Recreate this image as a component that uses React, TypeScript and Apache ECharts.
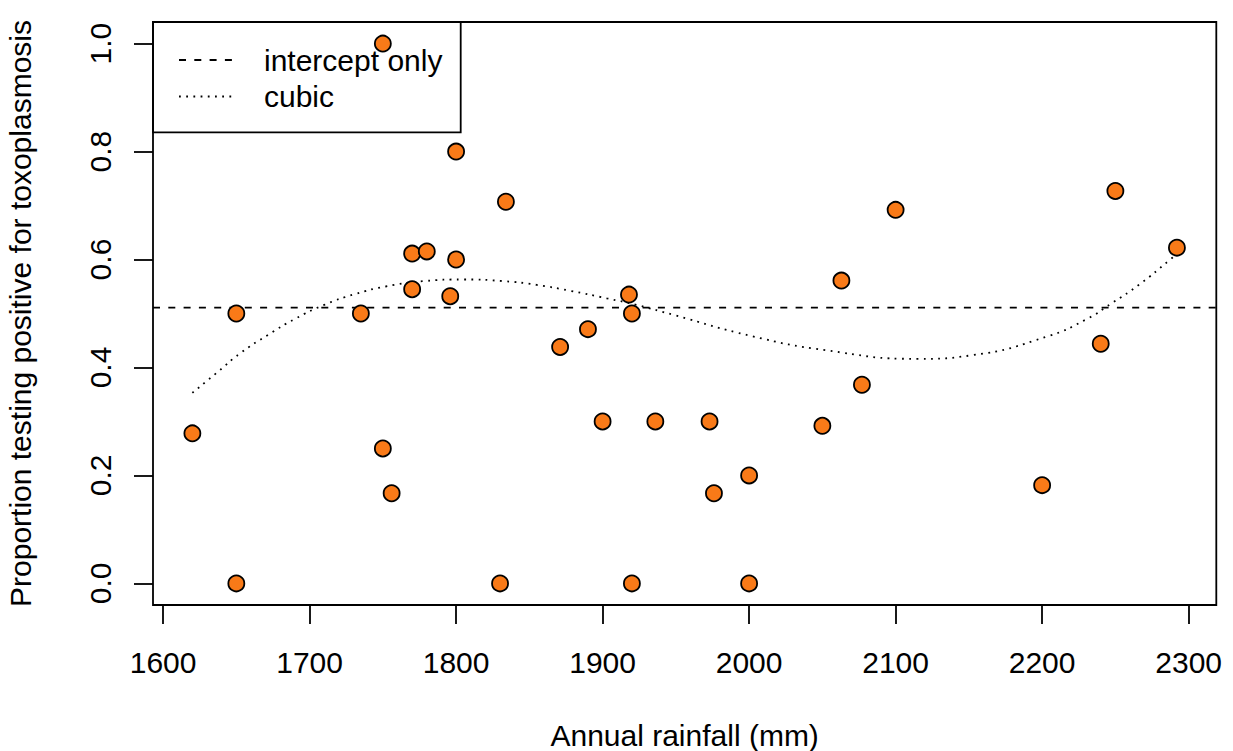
import React, { useEffect, useRef } from "react";
import * as echarts from "echarts";

const rainfall = [1735, 1936, 2000, 1973, 1750, 1800, 1750, 2077, 1920, 1800, 2050, 1830, 1650, 2200, 2000, 1770, 1920, 1770, 2240, 1620, 1756, 1650, 2250, 1796, 1890, 1871, 2063, 2100, 1918, 1834, 1780, 1900, 1976, 2292];
const proportion = [0.5, 0.3, 0.2, 0.3, 1.0, 0.6, 0.25, 0.368, 0.5, 0.8, 0.292, 0, 0.5, 0.182, 0, 0.545, 0, 0.611, 0.444, 0.278, 0.167, 0, 0.727, 0.532, 0.471, 0.438, 0.561, 0.692, 0.535, 0.707, 0.615, 0.3, 0.167, 0.622];

const cubicX = [1620, 1637, 1653, 1672, 1690, 1710, 1731, 1752, 1778, 1805, 1832, 1855, 1878, 1903, 1923, 1949, 2002, 2052, 2115, 2153, 2204, 2230, 2248, 2266, 2287, 2292];
const cubicY = [0.353, 0.391, 0.427, 0.461, 0.49, 0.516, 0.536, 0.55, 0.56, 0.563, 0.56, 0.553, 0.542, 0.528, 0.516, 0.497, 0.458, 0.432, 0.416, 0.423, 0.458, 0.489, 0.52, 0.553, 0.599, 0.611];

const interceptOnly = 0.511;

const xTicks = [1600, 1700, 1800, 1900, 2000, 2100, 2200, 2300];
const yTicks = [0, 0.2, 0.4, 0.6, 0.8, 1.0];
const xRange = [1593.12, 2318.88];
const yRange = [-0.04, 1.04];

const legendLabels = ["intercept only", "cubic"];

const FONT = '"Liberation Sans", Arial, Helvetica, sans-serif';
const FS = 30;

export default function App() {
  const ref = useRef<HTMLDivElement>(null);
  useEffect(() => {
    if (!ref.current) return;
    const chart = echarts.init(ref.current, null, { renderer: "svg" });
    const option = {
      animation: false,
      backgroundColor: "#ffffff",
      grid: {
        left: 153,
        top: 22,
        right: 16.7,
        bottom: 146,
        containLabel: false,
        outerBoundsMode: "none",
        show: true,
        borderColor: "#000",
        borderWidth: 1.8,
        backgroundColor: "transparent",
      },
      xAxis: {
        type: "value",
        min: xRange[0],
        max: xRange[1],
        position: "bottom",
        name: "Annual rainfall (mm)",
        nameLocation: "middle",
        nameGap: 115,
        nameTextStyle: { fontSize: FS, fontFamily: FONT, color: "#000" },
        axisLine: { show: false, onZero: false },
        splitLine: { show: false },
        axisTick: {
          show: true,
          inside: false,
          length: 19,
          lineStyle: { color: "#000", width: 1.8 },
          customValues: xTicks,
        },
        axisLabel: {
          show: true,
          margin: 42,
          fontSize: FS,
          fontFamily: FONT,
          color: "#000",
          customValues: xTicks,
          formatter: (v: number) => String(Math.round(v)),
        },
      },
      yAxis: {
        type: "value",
        min: yRange[0],
        max: yRange[1],
        position: "left",
        name: "Proportion testing positive for toxoplasmosis",
        nameLocation: "middle",
        nameGap: 118,
        nameTextStyle: { fontSize: FS, fontFamily: FONT, color: "#000" },
        axisLine: { show: false, onZero: false },
        splitLine: { show: false },
        axisTick: {
          show: true,
          inside: false,
          length: 19,
          lineStyle: { color: "#000", width: 1.8 },
          customValues: yTicks,
        },
        axisLabel: {
          show: true,
          rotate: 90,
          margin: 38,
          fontSize: FS,
          fontFamily: FONT,
          color: "#000",
          customValues: yTicks,
          formatter: (v: number) => v.toFixed(1),
        },
      },
      series: [
        {
          type: "line",
          name: legendLabels[0],
          data: [
            [xRange[0], interceptOnly],
            [xRange[1], interceptOnly],
          ],
          showSymbol: false,
          symbol: "none",
          lineStyle: { color: "#000", width: 1.8, type: [7, 8.3] },
          z: 2,
        },
        {
          type: "line",
          name: legendLabels[1],
          data: cubicX.map((x, i) => [x, cubicY[i]]),
          smooth: true,
          showSymbol: false,
          symbol: "none",
          lineStyle: { color: "#000", width: 1.8, type: [1.8, 5.4] },
          z: 2,
        },
        {
          type: "scatter",
          data: rainfall.map((x, i) => [x, proportion[i]]),
          symbol: "circle",
          symbolSize: 16,
          itemStyle: { color: "#F97A18", opacity: 1, borderColor: "#000", borderWidth: 1.8 },
          z: 3,
        },
      ],
      graphic: [
        {
          type: "rect",
          shape: { x: 153, y: 22, width: 307.7, height: 110.3 },
          style: { fill: "none", stroke: "#000", lineWidth: 1.8 },
          z: 1,
        },
        {
          type: "line",
          shape: { x1: 179, y1: 60, x2: 234, y2: 60 },
          style: { stroke: "#000", lineWidth: 1.8, lineDash: [7, 8.3] },
        },
        {
          type: "line",
          shape: { x1: 179, y1: 96.5, x2: 232, y2: 96.5 },
          style: { stroke: "#000", lineWidth: 1.8, lineDash: [1.8, 5.4] },
        },
        {
          type: "text",
          x: 264,
          y: 60,
          style: {
            text: legendLabels[0],
            fontSize: FS,
            fontFamily: FONT,
            fill: "#000",
            verticalAlign: "middle",
            align: "left",
          },
        },
        {
          type: "text",
          x: 264,
          y: 96.5,
          style: {
            text: legendLabels[1],
            fontSize: FS,
            fontFamily: FONT,
            fill: "#000",
            verticalAlign: "middle",
            align: "left",
          },
        },
      ],
    };
    chart.setOption(option as any);
    return () => chart.dispose();
  }, []);
  return (
    <div
      ref={ref}
      style={{ position: "fixed", left: 0, top: 0, width: 1233, height: 751 }}
    />
  );
}
